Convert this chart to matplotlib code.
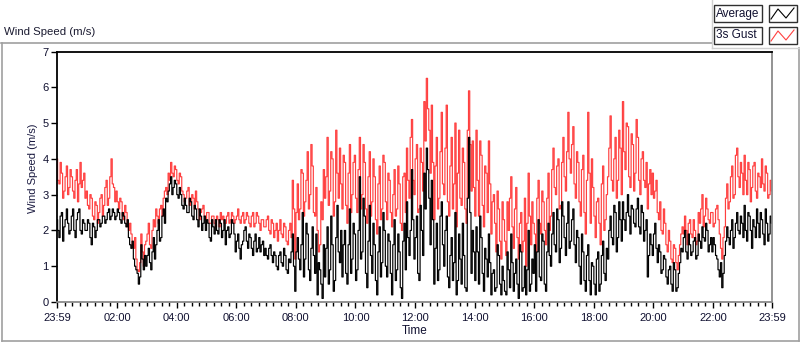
import numpy as np
import matplotlib
matplotlib.use("Agg")
import matplotlib.pyplot as plt
from matplotlib.patches import Rectangle
from matplotlib.lines import Line2D

plt.rcParams['font.family'] = ['Liberation Sans', 'DejaVu Sans']

# 5-minute samples starting at 23:59 of the previous day
gust = [
    4.0, 3.3, 3.6, 3.1, 3.8, 3.2, 3.5, 2.9, 3.7, 3.3, 3.2, 3.6,
    3.1, 2.6, 2.9, 2.3, 2.7, 2.5, 3.0, 2.7, 3.4, 2.9, 4.0, 3.2,
    3.1, 2.6, 2.8, 2.3, 2.5, 2.0, 1.9, 1.5, 1.2, 0.85, 1.9, 1.0,
    1.7, 2.2, 1.5, 2.3, 2.6, 2.2, 2.7, 2.9, 3.2, 3.6, 3.9, 3.5,
    3.7, 3.3, 3.5, 3.0, 2.9, 3.2, 2.8, 2.9, 3.1, 2.6, 2.5, 2.7,
    2.3, 2.5, 2.2, 2.4, 2.1, 2.3, 2.5, 2.4, 2.2, 2.5, 2.3, 2.4,
    2.3, 2.6, 2.2, 2.5, 2.3, 2.4, 2.1, 2.5, 2.2, 2.4, 2.0, 2.3,
    2.1, 2.4, 1.9, 2.2, 2.0, 1.7, 2.3, 1.8, 2.1, 1.6, 2.2, 3.4,
    1.2, 3.3, 2.6, 3.6, 2.8, 4.2, 3.0, 3.8, 2.4, 2.0, 1.6, 2.3,
    2.9, 4.6, 3.1, 4.0, 2.8, 3.6, 4.3, 2.6, 3.9, 2.2, 4.4, 3.0,
    4.1, 2.5, 4.6, 3.0, 3.9, 2.2, 4.2, 2.8, 3.5, 1.9, 3.8, 2.6,
    3.9, 2.3, 3.4, 2.1, 3.7, 2.6, 3.3, 2.0, 3.6, 4.3, 2.9, 5.1,
    3.0, 4.4, 2.6, 3.9, 5.6, 6.25, 4.8, 5.5, 2.3, 4.6, 2.9, 5.3,
    3.0, 5.5, 2.4, 4.6, 3.3, 2.1, 4.8, 2.7, 3.9, 2.2, 5.9, 3.1,
    3.2, 4.8, 2.4, 4.1, 2.1, 3.6, 4.5, 1.9, 3.0, 1.4, 2.6, 1.2,
    2.3, 1.3, 2.0, 3.5, 1.5, 3.2, 1.2, 2.5, 1.7, 1.0, 3.6, 1.6,
    2.2, 1.4, 3.4, 1.9, 2.8, 1.6, 3.6, 2.4, 4.3, 3.0, 4.0, 2.7,
    4.6, 3.1, 5.3, 3.6, 4.9, 2.9, 3.9, 2.4, 4.1, 1.9, 5.3, 2.2,
    3.2, 1.8, 2.9, 1.6, 3.8, 2.3, 3.5, 5.2, 3.1, 4.6, 3.4, 4.3,
    5.6, 3.7, 4.9, 3.2, 4.4, 3.6, 4.6, 3.0, 4.2, 3.2, 2.6, 3.7,
    3.6, 3.1, 2.5, 2.8, 1.9, 2.2, 1.4, 1.7, 1.1, 1.5, 0.9, 1.6,
    2.1, 2.4, 1.6, 2.3, 1.8, 2.0, 1.7, 2.2, 3.0, 2.4, 2.6, 2.2,
    2.5, 2.2, 2.7, 1.9, 1.2, 2.1, 3.3, 2.8, 3.8, 3.0, 4.3, 3.2,
    3.6, 4.1, 3.0, 3.7, 3.2, 3.9, 2.9, 3.5, 4.0, 3.1, 3.6, 3.0,
    3.1,
]

# samples half-way between the 5-minute samples above
gust_mid = [
    3.4, 3.9, 2.9, 3.5, 3.0, 3.7, 3.1, 3.4, 2.8, 3.9, 3.4, 2.9,
    2.7, 3.0, 2.4, 2.8, 2.2, 2.9, 2.4, 3.2, 2.7, 3.5, 3.3, 2.8,
    2.8, 2.9, 2.4, 2.7, 2.1, 2.2, 1.6, 1.8, 0.9, 1.1, 1.4, 1.6,
    1.9, 1.6, 2.0, 2.1, 2.4, 2.6, 2.4, 3.1, 3.0, 3.4, 3.6, 3.8,
    3.4, 3.6, 3.1, 2.8, 3.1, 2.7, 3.0, 2.6, 2.8, 2.3, 2.6, 2.4,
    2.5, 2.2, 2.4, 2.2, 2.4, 2.1, 2.3, 2.2, 2.4, 2.2, 2.5, 2.2,
    2.4, 2.3, 2.4, 2.2, 2.5, 2.2, 2.4, 2.1, 2.5, 2.2, 2.3, 2.1,
    2.3, 2.0, 2.3, 1.8, 2.2, 2.0, 1.9, 2.2, 1.7, 2.0, 1.8, 2.6,
    2.5, 2.3, 3.7, 2.4, 3.4, 2.6, 4.4, 2.5, 3.2, 1.4, 2.8, 3.7,
    3.5, 2.7, 4.2, 2.4, 4.8, 2.9, 3.3, 4.1, 2.7, 3.6, 2.5, 3.9,
    2.9, 3.7, 2.6, 4.4, 2.6, 3.5, 2.4, 4.0, 2.3, 3.3, 2.3, 4.1,
    2.8, 3.6, 2.5, 3.0, 2.4, 3.8, 2.2, 3.5, 2.5, 3.4, 4.6, 3.4,
    4.0, 2.5, 4.3, 3.1, 4.5, 5.4, 3.6, 3.9, 3.8, 2.6, 4.2, 3.3,
    4.3, 2.8, 3.8, 2.6, 5.0, 3.6, 2.9, 4.3, 2.6, 4.8, 4.4, 4.5,
    2.4, 3.4, 4.5, 2.7, 3.8, 2.5, 3.3, 2.8, 2.2, 3.1, 1.7, 2.8,
    1.7, 2.8, 2.9, 2.1, 2.6, 1.8, 2.2, 1.4, 2.9, 2.2, 2.4, 2.8,
    1.9, 2.9, 2.2, 3.1, 2.0, 2.9, 2.0, 3.7, 3.2, 3.8, 2.6, 3.9,
    3.5, 4.2, 4.0, 4.4, 3.3, 4.2, 2.8, 3.7, 2.5, 3.4, 3.6, 4.0,
    2.4, 2.8, 2.2, 3.3, 2.0, 3.0, 4.3, 3.4, 4.0, 2.9, 4.8, 3.0,
    4.2, 5.0, 3.5, 4.7, 3.1, 5.1, 3.4, 4.0, 3.4, 3.9, 3.3, 3.0,
    2.9, 3.4, 2.3, 2.0, 2.6, 1.6, 2.0, 1.2, 1.6, 1.1, 1.3, 1.9,
    1.9, 2.0, 2.2, 1.9, 2.3, 1.6, 2.5, 2.6, 2.1, 2.9, 2.3, 2.5,
    2.1, 2.6, 2.3, 1.5, 1.8, 2.9, 2.6, 3.5, 2.9, 4.1, 3.5, 3.9,
    3.0, 3.4, 3.9, 2.8, 3.8, 3.1, 3.6, 3.2, 3.3, 3.8, 2.9, 3.4,
]

average = [
    2.3, 1.8, 2.5, 2.1, 2.6, 1.9, 2.4, 2.0, 2.3, 2.6, 1.9, 2.2,
    2.0, 2.2, 1.6, 2.1, 2.0, 2.3, 2.2, 2.4, 2.3, 2.6, 2.4, 2.5,
    2.4, 2.5, 2.2, 2.4, 2.1, 1.8, 1.5, 1.2, 0.9, 0.5, 1.6, 0.9,
    1.0, 1.5, 0.9, 1.8, 1.6, 2.3, 1.8, 2.6, 2.9, 3.1, 3.5, 3.2,
    3.3, 2.9, 3.0, 2.6, 2.7, 2.5, 2.8, 2.3, 2.6, 2.1, 2.4, 2.2,
    2.0, 2.2, 1.7, 2.1, 2.3, 1.9, 2.2, 2.0, 1.6, 2.1, 1.9, 2.2,
    1.4, 1.9, 1.2, 1.7, 2.1, 1.5, 1.8, 1.3, 1.9, 1.5, 1.4, 1.7,
    1.5, 1.2, 1.6, 1.1, 1.3, 0.9, 1.4, 1.0, 1.3, 0.8, 1.1, 1.9,
    0.3, 1.8, 0.9, 2.5, 1.2, 1.9, 0.6, 2.1, 0.8, 0.2, 0.9, 0.1,
    0.7, 2.1, 0.9, 1.6, 0.6, 2.7, 1.1, 0.7, 2.0, 0.5, 2.6, 1.2,
    1.9, 0.9, 3.5, 1.4, 2.4, 0.4, 2.7, 0.8, 1.6, 0.2, 2.1, 1.1,
    2.0, 0.7, 1.7, 0.2, 2.3, 0.9, 1.4, 0.1, 2.2, 2.8, 1.3, 3.7,
    1.2, 2.4, 0.6, 2.0, 3.6, 4.3, 2.9, 3.4, 0.5, 2.2, 0.9, 2.8,
    1.0, 2.4, 0.4, 1.8, 1.1, 0.2, 1.9, 0.5, 1.3, 0.3, 4.6, 0.8,
    1.4, 2.1, 0.5, 1.8, 0.3, 1.2, 1.9, 0.2, 0.9, 0.4, 1.3, 0.2,
    0.6, 0.2, 0.9, 1.9, 0.3, 1.2, 0.1, 1.4, 0.4, 0.2, 2.0, 0.5,
    0.8, 0.3, 2.3, 0.6, 1.7, 0.3, 2.2, 1.0, 2.5, 1.4, 2.3, 1.5,
    2.4, 1.3, 2.8, 1.7, 2.6, 1.1, 1.8, 0.5, 1.4, 0.3, 1.6, 0.2,
    1.0, 0.2, 1.4, 0.5, 1.7, 0.6, 1.2, 2.4, 1.6, 2.5, 1.8, 2.3,
    2.8, 2.0, 3.0, 1.9, 2.6, 2.1, 2.9, 1.9, 2.5, 2.0, 0.7, 1.9,
    1.3, 2.2, 1.1, 1.4, 0.9, 1.2, 0.5, 1.0, 0.3, 0.9, 0.4, 1.1,
    1.4, 2.0, 1.2, 1.6, 1.4, 1.8, 1.3, 1.7, 2.1, 1.7, 2.0, 1.6,
    1.4, 1.6, 1.2, 0.7, 0.4, 1.3, 2.1, 1.6, 2.3, 1.8, 2.5, 1.9,
    2.2, 2.7, 1.7, 2.4, 1.5, 2.1, 2.6, 1.8, 2.3, 1.6, 2.2, 1.9,
    2.2,
]

average_mid = [
    2.0, 2.4, 1.7, 2.3, 2.2, 2.0, 2.6, 1.8, 2.5, 2.0, 2.3, 2.0,
    2.3, 1.8, 2.2, 1.8, 2.3, 2.1, 2.4, 2.2, 2.5, 2.3, 2.6, 2.3,
    2.6, 2.3, 2.5, 2.2, 2.3, 1.6, 1.7, 1.0, 0.8, 0.7, 1.2, 1.3,
    1.3, 1.1, 1.4, 1.2, 2.0, 1.7, 2.4, 2.2, 2.8, 3.3, 3.0, 3.4,
    3.0, 3.2, 2.7, 2.9, 2.5, 2.9, 2.4, 2.7, 2.3, 2.6, 2.0, 2.4,
    2.3, 1.8, 2.3, 1.9, 2.0, 2.3, 1.8, 2.3, 2.0, 1.8, 2.3, 1.9,
    1.7, 1.5, 1.6, 2.0, 1.7, 1.9, 1.5, 1.7, 1.4, 1.8, 1.6, 1.3,
    1.3, 1.5, 1.3, 1.4, 1.0, 1.3, 1.1, 1.5, 0.9, 1.2, 1.4, 1.0,
    1.4, 1.2, 1.6, 0.7, 2.2, 0.9, 1.5, 1.3, 1.9, 1.1, 0.5, 1.6,
    1.5, 0.5, 2.4, 0.3, 1.8, 1.4, 2.0, 1.6, 0.8, 1.6, 0.8, 2.2,
    0.6, 2.0, 1.2, 2.9, 0.8, 1.7, 1.3, 2.2, 0.6, 1.4, 0.7, 2.5,
    1.0, 1.9, 0.8, 1.6, 0.6, 1.9, 0.4, 1.7, 0.9, 1.8, 2.0, 2.3,
    1.8, 0.8, 2.7, 1.3, 2.6, 3.7, 1.6, 2.3, 1.5, 0.6, 2.4, 1.6,
    2.0, 0.7, 1.3, 0.6, 2.5, 0.6, 1.2, 2.2, 0.4, 2.9, 2.5, 2.0,
    0.6, 1.4, 2.4, 0.8, 1.5, 0.7, 1.1, 0.8, 0.3, 1.6, 0.5, 1.0,
    0.3, 1.4, 0.4, 1.1, 0.8, 0.5, 1.6, 0.3, 1.0, 0.9, 0.3, 1.2,
    1.6, 1.4, 0.7, 1.9, 0.5, 1.4, 1.3, 1.9, 1.6, 2.6, 1.1, 2.8,
    1.8, 2.2, 1.5, 2.3, 1.6, 2.0, 1.0, 1.9, 0.6, 1.3, 0.6, 1.1,
    0.5, 1.2, 0.3, 1.3, 0.8, 1.5, 2.0, 1.8, 2.7, 1.4, 2.8, 1.7,
    2.3, 2.5, 2.4, 2.7, 2.2, 2.6, 2.1, 2.7, 1.7, 2.3, 1.3, 1.6,
    1.9, 1.5, 1.6, 0.8, 1.3, 0.7, 0.9, 0.5, 1.1, 0.3, 0.8, 1.5,
    1.8, 1.4, 1.9, 1.3, 1.7, 1.2, 1.9, 1.5, 1.8, 2.2, 1.4, 1.8,
    1.8, 1.3, 0.9, 1.1, 0.8, 1.7, 1.8, 2.0, 1.5, 2.2, 2.0, 2.4,
    1.8, 2.0, 2.5, 2.0, 2.3, 1.8, 2.2, 2.5, 1.9, 2.6, 1.7, 2.4,
]

tick_hours = [-1/60, 2, 4, 6, 8, 10, 12, 14, 16, 18, 20, 22, 24 - 1/60]
tick_labels = ["23:59", "02:00", "04:00", "06:00", "08:00", "10:00", "12:00",
               "14:00", "16:00", "18:00", "20:00", "22:00", "23:59"]
y_ticks = [0, 1, 2, 3, 4, 5, 6, 7]
series_names = ["Average", "3s Gust"]
series_colors = ["#000000", "#ff4040"]


def interleave(main, mid):
    n = len(main)
    vals = np.empty(2 * n - 1)
    vals[0::2] = main
    vals[1::2] = mid
    times = -1/60 + np.arange(2 * n - 1) * 2.5 / 60
    return times, vals


W, H = 800, 342
fig = plt.figure(figsize=(W / 100, H / 100), dpi=100)
fig.patch.set_facecolor("white")


def fx(x):
    return x / W


def fy(y):
    return 1 - y / H


# outer frame
frame_col = "#a0a0a0"
fig.add_artist(Line2D([fx(1), fx(712)], [fy(42.5), fy(42.5)], color=frame_col, lw=1.2))
fig.add_artist(Line2D([fx(1.5), fx(1.5)], [fy(42.5), fy(340.5)], color=frame_col, lw=1.2))
fig.add_artist(Line2D([fx(798.5), fx(798.5)], [fy(48), fy(340.5)], color=frame_col, lw=1.2))
fig.add_artist(Line2D([fx(1.5), fx(798.5)], [fy(340.5), fy(340.5)], color=frame_col, lw=1.2))
# legend panel border
fig.add_artist(Line2D([fx(711.5), fx(711.5)], [fy(0), fy(48)], color="#d0d0d0", lw=1))
fig.add_artist(Line2D([fx(711.5), fx(800)], [fy(48), fy(48)], color="#d0d0d0", lw=1))

fig.text(fx(4), fy(32), "Wind Speed (m/s)", fontsize=8.2, color="#1a1a30",
         ha="left", va="center")

# main axes
ax = fig.add_axes([fx(57), fy(302), fx(772) - fx(57), fy(51.5) - fy(302)])
tg, vg = interleave(gust, gust_mid)
ta, va = interleave(average, average_mid)
ax.plot(tg, vg, color=series_colors[1], lw=0.85, drawstyle="steps-mid")
ax.plot(ta, va, color=series_colors[0], lw=0.85, drawstyle="steps-mid")
ax.set_xlim(tick_hours[0], tick_hours[-1])
ax.set_ylim(0, 7)

ax.set_yticks(y_ticks)
ax.set_yticklabels([str(v) for v in y_ticks])
ax.set_xticks(tick_hours)
ax.set_xticklabels(tick_labels)
ax.set_xticks(np.arange(0, 24, 0.25)[1:], minor=True)
ax.tick_params(axis="both", which="major", labelsize=8, labelcolor="#101030",
               length=4, width=1, color="#000000", pad=2)
ax.tick_params(axis="x", which="major", pad=4)
ax.tick_params(axis="x", which="minor", length=3, width=1, color="#000000")
ax.tick_params(axis="y", which="minor", length=0)
ax.set_xlabel("Time", fontsize=8.5, color="#101030", labelpad=1)

for side in ("top", "left"):
    ax.spines[side].set_color("#000000")
    ax.spines[side].set_linewidth(1.3)
for side in ("right", "bottom"):
    ax.spines[side].set_color("#8a8a8a")
    ax.spines[side].set_linewidth(1.3)

fig.text(fx(33), fy(168), "Wind Speed (m/s)", fontsize=8, color="#1a1a40",
         rotation=90, ha="center", va="center")

# legend
entries = [(5, series_names[0], series_colors[0]), (27, series_names[1], series_colors[1])]
for top, name, col in entries:
    fig.add_artist(Rectangle((fx(713.5), fy(top + 17)), fx(48.5), 17 / H,
                             facecolor="white", edgecolor="#303030", lw=1,
                             transform=fig.transFigure))
    fig.text(fx(716), fy(top + 8.5), name, fontsize=8.5, color="#101030",
             ha="left", va="center")
    fig.add_artist(Rectangle((fx(768.5), fy(top + 17)), fx(28.5), 17 / H,
                             facecolor="white", edgecolor="#303030", lw=1,
                             transform=fig.transFigure))
    xs = [771, 778, 786, 794]
    ys = [top + 14, top + 4, top + 13, top + 3]
    fig.add_artist(Line2D([fx(v) for v in xs], [fy(v) for v in ys], color=col, lw=0.8))

fig.savefig("out.png", dpi=100, facecolor="white")
